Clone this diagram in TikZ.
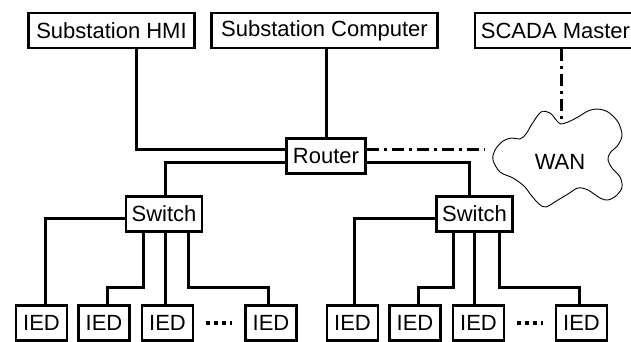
\documentclass[tikz,border=0pt]{standalone}
\usepackage{fontspec}
\setmainfont{Liberation Sans}
\begin{document}
\begin{tikzpicture}[x=1pt,y=-1pt,
  box/.style={draw,line width=2.8pt,inner sep=0pt,minimum height=35,
    font=\fontsize{22}{26}\selectfont},
  link/.style={line width=3pt},
  wanlink/.style={line width=3pt,dash pattern=on 12pt off 5pt on 3pt off 5pt},
  more/.style={line width=3.4pt,dash pattern=on 4pt off 4pt}]
\useasboundingbox (0,0) rectangle (631,341);

% upper level
\node[box,minimum width=166] (hmi)   at (111.5,30.5) {Substation HMI};
\node[box,minimum width=226] (comp)  at (324.5,30.5) {Substation Computer};
\node[box,minimum width=161] (scada) at (555.5,30.5) {SCADA Master};

% router and switches
\node[box,minimum width=79] (router) at (326,156) {Router};
\node[box,minimum width=76] (swa) at (164,214) {Switch};
\node[box,minimum width=76] (swb) at (474.5,214) {Switch};

% bay level devices
\foreach \n/\x in {a1/41.5,a2/104,a3/167.5,a4/271,b1/352.5,b2/415,b3/478.5,b4/581.5}
  \node[box,minimum width=51] (ied\n) at (\x,323) {IED};

% WAN cloud
\draw[line width=0.9pt] plot[smooth cycle,tension=0.55] coordinates {
  (561,124) (568,122) (578,117) (588,111) (597,109) (608,112) (618,122)
  (622,135) (618,145) (610,153) (608,160) (612,168) (620,177) (622,187)
  (617,195) (608,200) (600,198) (588,190) (578,188) (568,194) (558,200)
  (546,207) (539,204) (531,195) (524,186) (513,178) (500,172) (493,160)
  (495,150) (503,141) (512,138) (520,139) (526,134) (532,124) (541,112)
  (550,113) (557,121)};
\node[font=\fontsize{22}{26}\selectfont] (wan) at (560,162) {WAN};
\coordinate (wanleft) at (484,149);
\coordinate (wantop) at (561,123);

% station bus
\draw[link] ([xshift=24.5]hmi.south) |- ([yshift=7]router.west);
\draw[link] (router.north |- comp.south) -- (router.north);
\draw[link] ([yshift=-6]router.west) -| ([xshift=1]swa.north);
\draw[link] ([yshift=-6]router.east) -| ([xshift=-5.5]swb.north);

% WAN links
\draw[wanlink] ([yshift=7]router.east) -- (wanleft);
\draw[wanlink] ([xshift=5.5]scada.south) -- (wantop);

% left switch to its IEDs
\draw[link] ([yshift=-4]swa.west) -| ([xshift=3.5]ieda1.north);
\draw[link] ([xshift=-21]swa.south) -- ++(0,55) -| ([xshift=3]ieda2.north);
\draw[link] ([xshift=-2.5]ieda3.north |- swa.south) -- ([xshift=-2.5]ieda3.north);
\draw[link] ([xshift=24]swa.south) -- ++(0,55) -| ([xshift=-3]ieda4.north);
\draw[more] ([xshift=12]ieda3.east) -- ([xshift=-12]ieda4.west);

% right switch to its IEDs
\draw[link] ([yshift=-4]swb.west) -| ([xshift=1.5]iedb1.north);
\draw[link] ([xshift=-21.5]swb.south) -- ++(0,55) -| ([xshift=3]iedb2.north);
\draw[link] ([xshift=-4.5]iedb3.north |- swb.south) -- ([xshift=-4.5]iedb3.north);
\draw[link] ([xshift=24.5]swb.south) -- ++(0,55) -| ([xshift=-2.5]iedb4.north);
\draw[more] ([xshift=12]iedb3.east) -- ([xshift=-12]iedb4.west);
\end{tikzpicture}
\end{document}
